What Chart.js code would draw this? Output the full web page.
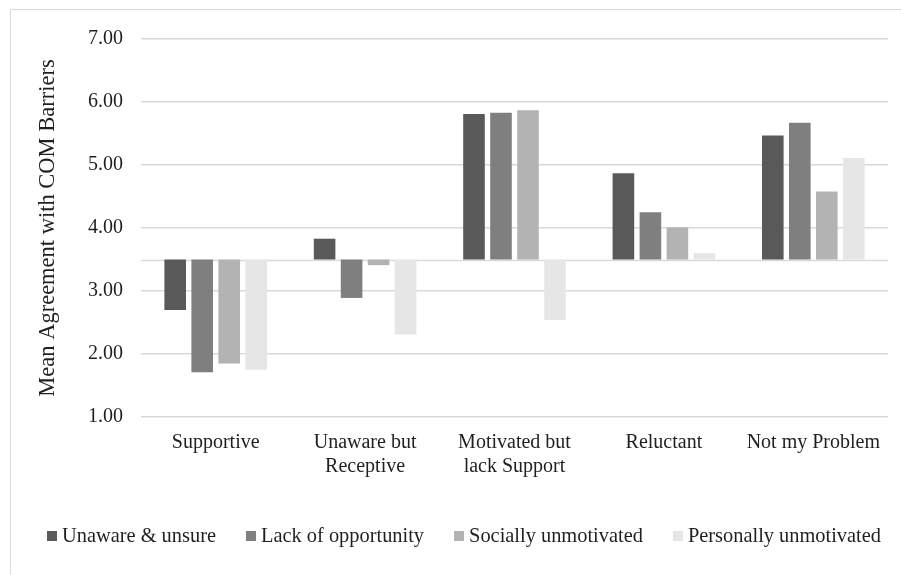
<!DOCTYPE html>
<html>
<head>
<meta charset="utf-8">
<script src="https://cdn.jsdelivr.net/npm/chart.js@4/dist/chart.umd.min.js"></script>
<style>
  html, body { margin: 0; padding: 0; background: #ffffff; overflow: hidden; }
  #wrap { width: 901px; height: 575px; position: relative; }
</style>
</head>
<body>
<div id="wrap"><canvas id="c" width="901" height="575"></canvas></div>
<script>
// Profile groups along the category axis
const categories = [
  'Supportive',
  ['Unaware but', 'Receptive'],
  ['Motivated but', 'lack Support'],
  'Reluctant',
  'Not my Problem'
];

// Mean agreement with each COM barrier, per profile
const unawareUnsure         = [2.70, 3.83, 5.81, 4.87, 5.47];
const lackOfOpportunity     = [1.71, 2.89, 5.83, 4.25, 5.67];
const sociallyUnmotivated   = [1.85, 3.41, 5.87, 4.01, 4.58];
const personallyUnmotivated = [1.75, 2.31, 2.54, 3.60, 5.11];

const seriesNames = ['Unaware & unsure', 'Lack of opportunity', 'Socially unmotivated', 'Personally unmotivated'];
const seriesColors = ['#595959', '#7f7f7f', '#b3b3b3', '#e6e6e6'];

// Bars grow up or down from the scale midpoint
const midpoint = 3.5;
const yTicks = [1, 2, 3, 4, 5, 6, 7];

const FONT = "'Liberation Serif', 'Times New Roman', serif";
const TEXT = '#1f1f1f';
const GRID = '#d9d9d9';

// Outer frame around the chart
const framePlugin = {
  id: 'frame',
  beforeDraw(chart) {
    const ctx = chart.ctx;
    ctx.save();
    ctx.fillStyle = '#ffffff';
    ctx.fillRect(0, 0, chart.width, chart.height);
    ctx.strokeStyle = GRID;
    ctx.lineWidth = 1;
    ctx.strokeRect(10.5, 9.5, 920, 620);
    ctx.restore();
  }
};

// Horizontal axis line at the midpoint value
const midlinePlugin = {
  id: 'midline',
  beforeDatasetsDraw(chart) {
    const { ctx, chartArea, scales } = chart;
    const y = Math.round(scales.y.getPixelForValue(midpoint)) + 0.5;
    ctx.save();
    ctx.strokeStyle = GRID;
    ctx.lineWidth = 1.5;
    ctx.beginPath();
    ctx.moveTo(chartArea.left, y);
    ctx.lineTo(chartArea.right, y);
    ctx.stroke();
    ctx.restore();
  }
};

// Single-row legend under the axis: square swatch, short gap, label
const legendRowPlugin = {
  id: 'legendRow',
  afterDraw(chart) {
    const ctx = chart.ctx;
    const sets = chart.data.datasets;
    const box = 10, gapText = 5, gapItem = 30, centerX = 464, centerY = 536;
    ctx.save();
    ctx.font = `20.4px ${FONT}`;
    ctx.textBaseline = 'middle';
    ctx.textAlign = 'left';
    const widths = sets.map(ds => ctx.measureText(ds.label).width);
    const total = widths.reduce((a, w) => a + box + gapText + w, 0) + gapItem * (sets.length - 1);
    let x = centerX - total / 2;
    sets.forEach((ds, i) => {
      ctx.fillStyle = ds.backgroundColor;
      ctx.fillRect(Math.round(x), Math.round(centerY - box / 2), box, box);
      ctx.fillStyle = TEXT;
      ctx.fillText(ds.label, x + box + gapText, centerY + 1);
      x += box + gapText + widths[i] + gapItem;
    });
    ctx.restore();
  }
};

const seriesData = [unawareUnsure, lackOfOpportunity, sociallyUnmotivated, personallyUnmotivated];

new Chart(document.getElementById('c'), {
  type: 'bar',
  data: {
    labels: categories,
    datasets: seriesData.map((vals, i) => ({
      label: seriesNames[i],
      data: vals,
      base: midpoint,
      backgroundColor: seriesColors[i],
      borderWidth: 0,
      categoryPercentage: 0.723,
      barPercentage: 0.8
    }))
  },
  options: {
    responsive: false,
    animation: false,
    devicePixelRatio: 1,
    layout: { padding: { left: 25, right: 13, top: 39, bottom: 78 } },
    plugins: {
      tooltip: { enabled: false },
      legend: { display: false }
    },
    scales: {
      x: {
        grid: { display: false },
        border: { display: false },
        ticks: {
          color: TEXT,
          padding: 6,
          maxRotation: 0,
          autoSkip: false,
          font: { family: FONT, size: 20 }
        },
        afterFit(scale) { scale.height = 80; }
      },
      y: {
        min: yTicks[0],
        max: yTicks[yTicks.length - 1],
        afterBuildTicks(scale) { scale.ticks = yTicks.map(v => ({ value: v })); },
        grid: { color: GRID, lineWidth: 1.5, drawTicks: false },
        border: { display: false },
        ticks: {
          color: TEXT,
          padding: 18,
          font: { family: FONT, size: 20 },
          callback: v => Number(v).toFixed(2)
        },
        title: {
          display: true,
          text: 'Mean Agreement with COM Barriers',
          color: TEXT,
          padding: { top: 10, bottom: 0 },
          font: { family: FONT, size: 22.5, weight: 'normal' }
        },
        afterFit(scale) { scale.width = 116; }
      }
    }
  },
  plugins: [framePlugin, midlinePlugin, legendRowPlugin]
});
</script>
</body>
</html>
